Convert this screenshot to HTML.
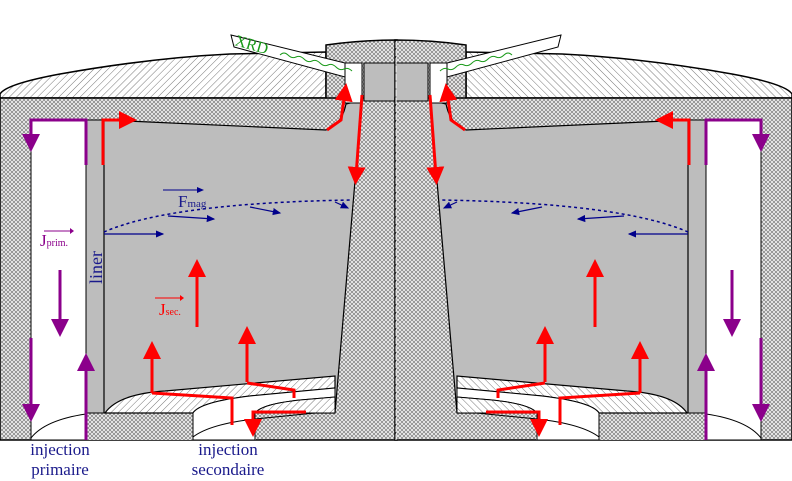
<!DOCTYPE html>
<html><head><meta charset="utf-8"><style>
html,body{margin:0;padding:0;background:#fff;}
svg{display:block;}
text{font-family:"Liberation Serif",serif;}
</style></head><body>
<svg width="792" height="481" viewBox="0 0 792 481" xmlns="http://www.w3.org/2000/svg">
<defs>
<pattern id="cross" width="4" height="4" patternUnits="userSpaceOnUse">
<rect width="4" height="4" fill="#ececec"/>
<path d="M0,0 L4,4 M4,0 L0,4" stroke="#6a6a6a" stroke-width="0.6"/>
</pattern>
<pattern id="diag" width="5" height="5" patternUnits="userSpaceOnUse" patternTransform="rotate(45)">
<rect width="5" height="5" fill="#fff"/>
<line x1="0" y1="0" x2="0" y2="5" stroke="#555" stroke-width="0.8"/>
</pattern>
<marker id="ar" markerWidth="6" markerHeight="6" refX="3" refY="3" orient="auto" markerUnits="strokeWidth">
<path d="M0,0 L6,3 L0,6 Z" fill="#f00"/></marker>
<marker id="ap" markerWidth="6" markerHeight="6" refX="3" refY="3" orient="auto" markerUnits="strokeWidth">
<path d="M0,0 L6,3 L0,6 Z" fill="#8b008b"/></marker>
<marker id="ab" markerWidth="8" markerHeight="8" refX="6" refY="3" orient="auto" markerUnits="strokeWidth">
<path d="M0,0 L7,3 L0,6 Z" fill="#00008b"/></marker>
<g id="half">
<path d="M0,98 L0,94 Q6,84 60,74 Q150,58 230,54 L326,52 L326,98 Z" fill="url(#diag)" stroke="#000" stroke-width="1.5"/>
<path d="M326,45 Q360,40 397,40 L397,100 L326,100 Z" fill="url(#cross)" stroke="#000" stroke-width="1.5"/>
<rect x="0" y="98" width="397" height="342" fill="url(#cross)" stroke="#000" stroke-width="1.5"/>
<rect x="31" y="120" width="55" height="320" fill="#fff" stroke="#000" stroke-width="1"/>
<path d="M31,438 Q45,420 86,414" fill="none" stroke="#000" stroke-width="1"/>
<rect x="86" y="120" width="18" height="293" fill="#bdbdbd" stroke="#000" stroke-width="1"/>
<path d="M104,120 L326,130 Q342,124 346,104 L362,100 L335,413 L104,413 Z" fill="#bdbdbd" stroke="#000" stroke-width="1.2"/>
<rect x="345" y="63" width="17" height="40" fill="#fff" stroke="#000" stroke-width="1"/>
<rect x="364" y="63" width="33" height="38" fill="#bdbdbd" stroke="#000" stroke-width="1"/>
<rect x="86" y="413" width="170" height="27" fill="url(#cross)"/>
<path d="M105,413 Q118,394 165,391 L335,376 L335,388 L250,396 Q200,402 193,413 Z" fill="url(#diag)" stroke="#000" stroke-width="1.2"/>
<path d="M193,413 Q200,402 250,396 L335,388 L335,397 L300,400 Q262,404 255,413 L255,440 L193,440 Z" fill="#fff" stroke="#000" stroke-width="1"/>
<path d="M193,437 Q210,424 255,419 L335,411" fill="none" stroke="#000" stroke-width="1"/>
<path d="M255,413 Q262,404 300,400 L335,397 L335,413 Z" fill="url(#diag)" stroke="#000" stroke-width="1"/>
<line x1="86" y1="413" x2="193" y2="413" stroke="#000" stroke-width="1"/>
<line x1="255" y1="413" x2="335" y2="413" stroke="#000" stroke-width="1"/>
<path d="M231,35 L345,63 L345,77 L234,47 Z" fill="#fff" stroke="#000" stroke-width="1"/>
<path d="M280,55 q4,-4 8,0 t8,2 t8,2 t8,2 t8,2 t8,2 t8,2 t8,2 t8,2" fill="none" stroke="#1a9a1a" stroke-width="1"/>
<g stroke="#f00" stroke-width="3" fill="none">
<path d="M103,165 L103,120 L128,120" marker-end="url(#ar)"/>
<path d="M327,130 L341,120 L345,92" marker-end="url(#ar)"/>
<path d="M362,95 L356,176" marker-end="url(#ar)"/>
<path d="M197,327 L197,268" marker-end="url(#ar)"/>
<path d="M152,393 L152,350" marker-end="url(#ar)"/>
<path d="M247,382 L247,335" marker-end="url(#ar)"/>
<path d="M152,393 L232,398 L232,425"/>
<path d="M247,383 L294,390 L294,398"/>
<path d="M306,412 L253,412 L253,428" marker-end="url(#ar)"/>
</g>
<g stroke="#8b008b" stroke-width="3" fill="none">
<path d="M86,165 L86,120 L31,120 L31,143" marker-end="url(#ap)"/>
<path d="M31,338 L31,413" marker-end="url(#ap)"/>
<path d="M60,270 L60,328" marker-end="url(#ap)"/>
<path d="M86,440 L86,362" marker-end="url(#ap)"/>
</g>
<path d="M104,232 Q170,203 352,200" fill="none" stroke="#00008b" stroke-width="1.5" stroke-dasharray="3,3"/>
<g stroke="#00008b" stroke-width="1.2" fill="none">
<line x1="104" y1="234" x2="163" y2="234" marker-end="url(#ab)"/>
<line x1="168" y1="216" x2="214" y2="219" marker-end="url(#ab)"/>
<line x1="250" y1="207" x2="280" y2="213" marker-end="url(#ab)"/>
<line x1="335" y1="202" x2="348" y2="208" marker-end="url(#ab)"/>
</g>
</g>
</defs>
<use href="#half"/>
<use href="#half" transform="translate(792,0) scale(-1,1)"/>
<line x1="396" y1="42" x2="396" y2="440" stroke="#fff" stroke-width="1" stroke-dasharray="6,2"/>
<text x="0" y="0" font-size="16" fill="#1a9a1a" transform="translate(234,45) rotate(16)">XRD</text>
<line x1="163" y1="190" x2="203" y2="190" stroke="#00008b" stroke-width="1" marker-end="url(#ab)"/>
<text x="178" y="207" font-size="17" fill="#1a1a8b">F<tspan font-size="11">mag</tspan></text>
<line x1="44" y1="231" x2="70" y2="231" stroke="#8b008b" stroke-width="1"/>
<path d="M70,228 L74,231 L70,234 Z" fill="#8b008b"/>
<text x="40" y="246" font-size="17" fill="#8b008b">J<tspan font-size="10">prim.</tspan></text>
<line x1="155" y1="298" x2="181" y2="298" stroke="#f00" stroke-width="1"/>
<path d="M180,295 L184,298 L180,301 Z" fill="#f00"/>
<text x="159" y="315" font-size="17" fill="#f00">J<tspan font-size="10">sec.</tspan></text>
<text x="0" y="0" font-size="18" fill="#1a1a8b" transform="translate(102,284) rotate(-90)">liner</text>
<g font-size="17" fill="#1a1a8b" text-anchor="middle">
<text x="60" y="455">injection</text>
<text x="60" y="475">primaire</text>
<text x="228" y="455">injection</text>
<text x="228" y="475">secondaire</text>
</g>
</svg>
</body></html>
